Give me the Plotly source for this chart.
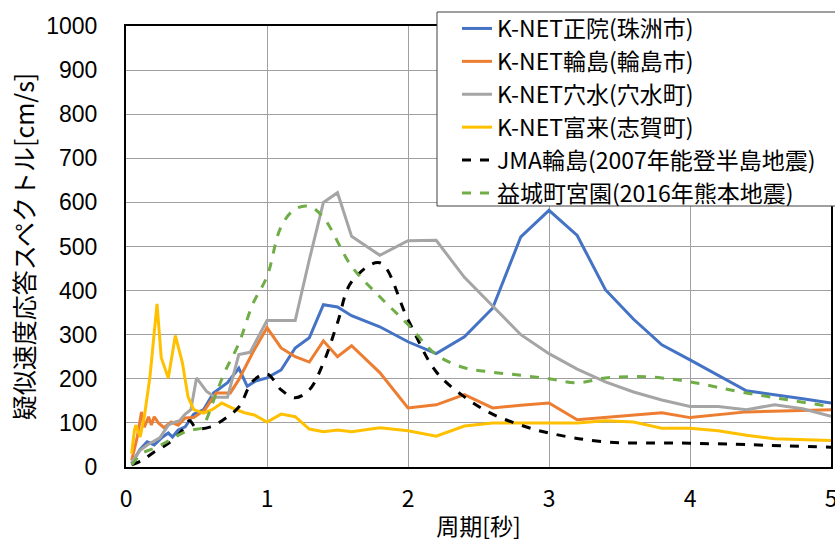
import plotly.graph_objects as go

# Pseudo-velocity response spectra (h=5%), period [s] vs. Sv [cm/s]
shoin_t = [0.04, 0.1, 0.15, 0.2, 0.26, 0.3, 0.33, 0.37, 0.42, 0.48, 0.55, 0.62, 0.72, 0.8, 0.86,
           0.92, 1.0, 1.1, 1.2, 1.3, 1.4, 1.5, 1.6, 1.8, 2.0, 2.2, 2.4, 2.6, 2.8, 3.0, 3.2, 3.4,
           3.6, 3.8, 4.0, 4.2, 4.4, 4.8, 5.0]
shoin_v = [8, 40, 57, 50, 68, 77, 68, 84, 91, 120, 130, 168, 191, 224, 183,
           195, 202, 220, 270, 293, 368, 363, 343, 318, 284, 257, 295, 360, 522, 582, 525, 402,
           335, 277, 243, 208, 173, 155, 145]

wajima_t = [0.04, 0.08, 0.11, 0.13, 0.16, 0.18, 0.2, 0.23, 0.27, 0.32, 0.37, 0.42, 0.48, 0.56,
            0.64, 0.74, 0.8, 0.9, 1.0, 1.1, 1.2, 1.3, 1.4, 1.5, 1.6, 1.8, 2.0, 2.2, 2.4, 2.6,
            2.8, 3.0, 3.2, 3.6, 3.8, 4.0, 4.4, 5.0]
wajima_v = [15, 68, 125, 90, 114, 95, 114, 100, 89, 102, 95, 111, 112, 130,
            168, 168, 198, 260, 316, 270, 250, 238, 286, 250, 275, 214, 134, 141, 164, 134,
            140, 145, 107, 118, 123, 112, 125, 130]

anamizu_t = [0.04, 0.1, 0.15, 0.19, 0.24, 0.3, 0.33, 0.38, 0.42, 0.46, 0.5, 0.57, 0.63, 0.72,
             0.8, 0.88, 1.0, 1.2, 1.3, 1.4, 1.5, 1.6, 1.8, 2.0, 2.2, 2.4, 2.6, 2.8, 3.0, 3.2,
             3.4, 3.6, 3.8, 4.0, 4.2, 4.4, 4.6, 4.8, 5.0]
anamizu_v = [10, 38, 50, 57, 66, 95, 100, 105, 120, 130, 202, 172, 158, 158,
             255, 260, 332, 332, 470, 600, 622, 523, 480, 513, 514, 430, 365, 300, 257, 222,
             193, 170, 152, 137, 137, 130, 141, 132, 115]

togi_t = [0.04, 0.06, 0.07, 0.1, 0.13, 0.17, 0.22, 0.25, 0.3, 0.35, 0.4, 0.44, 0.48, 0.55,
          0.61, 0.68, 0.75, 0.84, 0.91, 1.0, 1.1, 1.2, 1.3, 1.4, 1.5, 1.6, 1.8, 2.0, 2.2,
          2.4, 2.6, 2.8, 3.0, 3.2, 3.4, 3.6, 3.8, 4.0, 4.2, 4.4, 4.6, 5.0]
togi_v = [30, 84, 95, 68, 114, 205, 370, 248, 202, 298, 236, 159, 130, 122,
          130, 145, 134, 123, 118, 102, 120, 114, 86, 80, 84, 80, 89, 82, 70,
          93, 100, 100, 100, 100, 105, 102, 88, 88, 82, 72, 64, 60]

jma2007_t = [0.04, 0.12, 0.19, 0.26, 0.33, 0.4, 0.45, 0.5, 0.6, 0.69, 0.8, 0.9, 1.0, 1.1,
             1.2, 1.3, 1.4, 1.5, 1.6, 1.8, 2.0, 2.2, 2.4, 2.6, 2.8, 3.0, 3.4, 4.0, 5.0]
jma2007_v = [5, 16, 32, 45, 61, 84, 105, 88, 91, 107, 136, 195, 211, 175,
             157, 175, 236, 327, 420, 463, 334, 216, 159, 120, 95, 77, 57, 54, 45]

mashiki_t = [0.04, 0.12, 0.22, 0.31, 0.4, 0.47, 0.54, 0.57, 0.62, 0.7, 0.8, 0.9, 1.0, 1.1,
             1.2, 1.3, 1.4, 1.6, 1.8, 2.0, 2.2, 2.4, 2.6, 2.8, 3.0, 3.2, 3.4, 3.6, 3.8, 4.0,
             4.4, 5.0]
mashiki_v = [5, 32, 45, 61, 77, 84, 89, 107, 150, 215, 280, 370, 432, 545,
             585, 591, 566, 455, 386, 323, 255, 225, 215, 208, 200, 191, 202, 205, 202, 193,
             168, 137]

x_ticks = [0, 1, 2, 3, 4, 5]
y_ticks = list(range(0, 1001, 100))

series = [
    ("K-NET正院(珠洲市)", shoin_t, shoin_v, "#4472C4", "solid", "linear"),
    ("K-NET輪島(輪島市)", wajima_t, wajima_v, "#ED7D31", "solid", "linear"),
    ("K-NET穴水(穴水町)", anamizu_t, anamizu_v, "#A5A5A5", "solid", "linear"),
    ("K-NET富来(志賀町)", togi_t, togi_v, "#FFC000", "solid", "linear"),
    ("JMA輪島(2007年能登半島地震)", jma2007_t, jma2007_v, "#000000", "dash", "spline"),
    ("益城町宮園(2016年熊本地震)", mashiki_t, mashiki_v, "#70AD47", "dash", "spline"),
]

JP = "Noto Sans CJK JP"

# plot-area geometry in pixels, used to place the legend frame
W, H = 835, 546
ML, MR, MT, MB = 126, 4, 26, 79
PW, PH = W - ML - MR, H - MT - MB


def px_x(px):
    return (px - ML) / PW


def px_y(py):
    return (H - MB - py) / PH


fig = go.Figure()
for name, t, v, color, dash, shape in series:
    fig.add_trace(go.Scatter(
        x=t, y=v, name=name, mode="lines",
        line=dict(color=color, width=3, dash=dash, shape=shape),
    ))

# white legend frame drawn over the curves; the legend itself sits on top of it
fig.add_shape(
    type="rect", xref="paper", yref="paper", layer="above",
    x0=px_x(437), x1=px_x(845), y0=px_y(206), y1=px_y(12),
    fillcolor="white", line=dict(color="#404040", width=1),
)

fig.update_layout(
    width=W, height=H,
    margin=dict(l=ML, r=MR, t=MT, b=MB, autoexpand=False),
    paper_bgcolor="white", plot_bgcolor="white",
    font=dict(family=JP, size=20, color="#000000"),
    showlegend=True,
    legend=dict(
        x=px_x(457), y=px_y(7), xanchor="left", yanchor="top",
        bgcolor="rgba(0,0,0,0)", borderwidth=0,
        font=dict(family=JP, size=23, color="#000000"),
        itemwidth=30, tracegroupgap=0,
    ),
    xaxis=dict(
        range=[0, 5], tickvals=x_ticks, ticktext=[str(t) for t in x_ticks],
        showgrid=True, gridcolor="#A0A0A0", gridwidth=1,
        showline=True, linecolor="#000000", linewidth=2, mirror=True,
        ticks="", zeroline=False, ticklabelstandoff=10, ticklabeloverflow="allow",
        tickfont=dict(family=JP, size=23),
        title=dict(text="周期[秒]", font=dict(family=JP, size=23), standoff=6),
    ),
    yaxis=dict(
        range=[0, 1000], tickvals=y_ticks, ticktext=[str(t) for t in y_ticks],
        showgrid=True, gridcolor="#A0A0A0", gridwidth=1,
        showline=True, linecolor="#000000", linewidth=2, mirror=True,
        ticks="", zeroline=False, ticklabelstandoff=22,
        tickfont=dict(family="Liberation Sans", size=23),
        title=dict(text="疑似速度応答スペクトル[cm/s]", font=dict(family=JP, size=25), standoff=4),
    ),
)

fig.write_html("out.html")
